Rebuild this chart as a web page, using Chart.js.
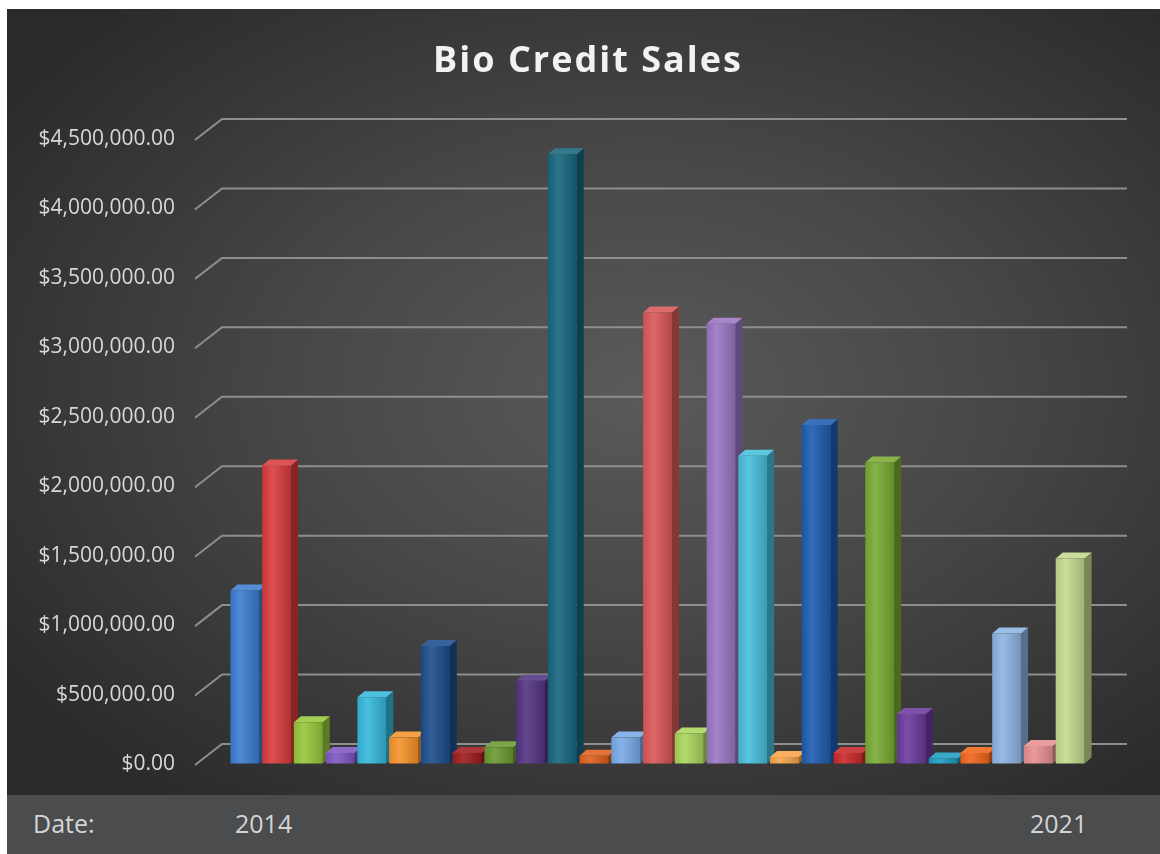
<!DOCTYPE html>
<html>
<head>
<meta charset="utf-8">
<script src="https://cdn.jsdelivr.net/npm/chart.js@4.4.1/dist/chart.umd.min.js"></script>
<style>
html,body{margin:0;padding:0;background:#fff;width:1160px;height:854px;overflow:hidden;}
#wrap{position:absolute;left:7px;top:9px;width:1153px;height:845px;overflow:hidden;
  background:radial-gradient(ellipse 68% 62% at 55% 45%, #5a5a5a 0%, #474747 45%, #2a2a2a 100%);}
#title{position:absolute;left:0;top:32px;width:1162px;text-align:center;font-family:"Open Sans",sans-serif;
  font-weight:bold;font-size:36px;line-height:36px;letter-spacing:2px;color:#f2f2f2;}
#c{position:absolute;left:0;top:0;}
#band{position:absolute;left:0;top:786px;width:1153px;height:59px;background:#4b4c4e;
  font-family:"Open Sans",sans-serif;font-size:25px;line-height:25px;color:#d4d4d4;}
#band span{position:absolute;top:16px;}
</style>
</head>
<body>
<div id="wrap">
  <canvas id="c" width="1153" height="786"></canvas>
  <div id="title">Bio Credit Sales</div>
  <div id="band"><span style="left:26px">Date:</span><span style="left:228px">2014</span><span style="left:1023px">2021</span></div>
</div>
<script>
const categories = ["Sale 1","Sale 2","Sale 3","Sale 4","Sale 5","Sale 6","Sale 7","Sale 8","Sale 9",
  "Sale 10","Sale 11","Sale 12","Sale 13","Sale 14","Sale 15","Sale 16","Sale 17","Sale 18",
  "Sale 19","Sale 20","Sale 21","Sale 22","Sale 23","Sale 24","Sale 25","Sale 26","Sale 27"];
const salesValues = [1250000, 2150000, 300000, 80000, 480000, 190000, 850000, 80000, 120000,
  600000, 4390000, 60000, 190000, 3250000, 220000, 3170000, 2220000, 50000,
  2440000, 80000, 2170000, 360000, 40000, 80000, 940000, 130000, 1480000];
const yTickValues = [0, 500000, 1000000, 1500000, 2000000, 2500000, 3000000, 3500000, 4000000, 4500000];
const barColors = ["#3b7dd0","#d93b3b","#95c83a","#7e57c2","#35b8dc","#f7932a","#1c4d8c","#9e1c1c","#6a9a30",
  "#533482","#17667e","#e0601c","#7aa9e8","#d95757","#a9d65a","#9a76c2","#47bedc","#f7a54a",
  "#1d5cb0","#c8282a","#79ab34","#6a3a9e","#1f9ec4","#f0661a","#8cb3e2","#e89090","#c3da8c"];

function shade(hex, amt){
  const n = parseInt(hex.slice(1),16);
  let r=(n>>16)&255,g=(n>>8)&255,b=n&255;
  const t = amt<0?0:255, p=Math.abs(amt);
  r=Math.round(r+(t-r)*p); g=Math.round(g+(t-g)*p); b=Math.round(b+(t-b)*p);
  return "rgb("+r+","+g+","+b+")";
}
const BAR_PCT = 0.91, DX = 7, DY = 6;

const threeD = {
  id:'threeD',
  beforeDatasetsDraw(chart){
    const ctx = chart.ctx, a = chart.chartArea, y = chart.scales.y;
    ctx.save();
    ctx.strokeStyle = '#8e8e8e';
    ctx.lineWidth = 2;
    y.ticks.forEach(t=>{
      const yp = y.getPixelForValue(t.value);
      ctx.beginPath();
      ctx.moveTo(a.left-34, yp+1);
      ctx.lineTo(a.left-7, yp-20);
      ctx.lineTo(a.right+41, yp-20);
      ctx.stroke();
    });
    const meta = chart.getDatasetMeta(0);
    meta.data.forEach((bar,i)=>{
      const p = bar.getProps(['x','y','base','width'], true);
      const x0 = p.x-p.width/2, x1 = p.x+p.width/2, yt = p.y, yb = p.base;
      const c = barColors[i];
      ctx.fillStyle = shade(c,-0.38);
      ctx.beginPath();
      ctx.moveTo(x1,yt); ctx.lineTo(x1+DX,yt-DY); ctx.lineTo(x1+DX,yb-DY); ctx.lineTo(x1,yb); ctx.closePath();
      ctx.fill();
      ctx.fillStyle = shade(c,0.12);
      ctx.beginPath();
      ctx.moveTo(x0,yt); ctx.lineTo(x1,yt); ctx.lineTo(x1+DX,yt-DY); ctx.lineTo(x0+DX,yt-DY); ctx.closePath();
      ctx.fill();
    });
    ctx.restore();
  }
};

new Chart(document.getElementById('c'), {
  type:'bar',
  data:{
    labels: categories,
    datasets:[{
      label:'Bio Credit Sales',
      data: salesValues,
      borderWidth:0,
      categoryPercentage:1,
      barPercentage:BAR_PCT,
      backgroundColor:(c)=>{
        const chart=c.chart, xs=chart.scales.x, col=barColors[c.dataIndex];
        if(!xs || !chart.chartArea || c.dataIndex===undefined) return col;
        const xc = xs.getPixelForValue(c.dataIndex);
        const w = xs.width/categories.length*BAR_PCT;
        const g = chart.ctx.createLinearGradient(xc-w/2,0,xc+w/2,0);
        g.addColorStop(0, shade(col,-0.08));
        g.addColorStop(0.35, shade(col,0.1));
        g.addColorStop(1, shade(col,-0.18));
        return g;
      }
    }]
  },
  options:{
    responsive:false,
    animation:false,
    devicePixelRatio:1,
    layout:{padding:{top:130,bottom:31,left:0,right:74}},
    plugins:{legend:{display:false},title:{display:false},tooltip:{enabled:false}},
    scales:{
      x:{display:false},
      y:{
        min:0,max:4500000,
        afterFit(s){ s.width = 222; },
        afterBuildTicks(s){ s.ticks = yTickValues.map(v=>({value:v})); },
        grid:{display:true,drawOnChartArea:false,drawTicks:true,tickLength:50,tickColor:'rgba(0,0,0,0)'},
        border:{display:false},
        ticks:{
          padding:4,
          color:'#d8d8d8',
          font:{family:'"Open Sans", sans-serif',size:21},
          callback:(v)=>'$'+Number(v).toLocaleString('en-US',{minimumFractionDigits:2,maximumFractionDigits:2})
        }
      }
    }
  },
  plugins:[threeD]
});
</script>
</body>
</html>
